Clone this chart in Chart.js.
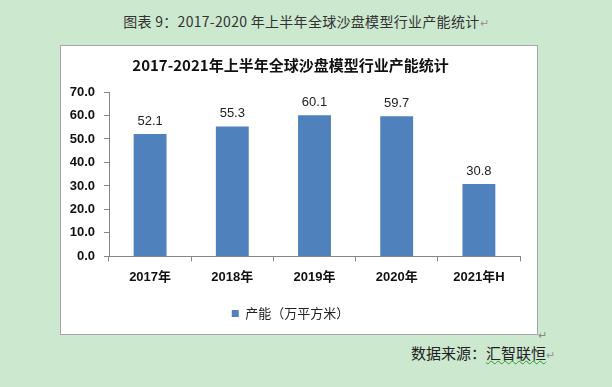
<!DOCTYPE html>
<html>
<head>
<meta charset="utf-8">
<script src="https://cdn.jsdelivr.net/npm/chart.js@4"></script>
<style>
  html, body { margin: 0; padding: 0; }
  body {
    width: 612px; height: 387px; position: relative; overflow: hidden;
    background: #cce8cf;
    font-family: "Noto Sans CJK SC", "Liberation Sans", sans-serif;
  }
  #caption {
    position: absolute; left: 0; top: 11px; width: 612px; text-align: center;
    font-size: 14px; font-weight: 400; color: #333; letter-spacing: 0.3px;
  }
  #box {
    position: absolute; left: 60px; top: 45px; width: 476px; height: 288px;
    border: 1px solid #a6a6a6; background: #fff;
  }
  #source {
    position: absolute; left: 411px; top: 342px;
    font-size: 15px; font-weight: 400; color: #222;
  }
  .wavy { text-decoration: underline wavy #2a9d2a; text-decoration-thickness: 1px; }
  .mark { color: #999; font-size: 11px; }
  #boxmark { position: absolute; left: 538px; top: 326px; color: #888; font-size: 11px; }
</style>
</head>
<body>
<div id="caption">图表 9：2017-2020 年上半年全球沙盘模型行业产能统计<span class="mark">↵</span></div>
<div id="box"><canvas id="myChart" width="476" height="288"></canvas></div>
<div id="boxmark">↵</div>
<div id="source">数据来源：<span class="wavy">汇智联恒</span><span class="mark">↵</span></div>
<script>
const years = ["2017年", "2018年", "2019年", "2020年", "2021年H"];
const capacity = [52.1, 55.3, 60.1, 59.7, 30.8];
const seriesName = "产能（万平方米）";
const chartTitle = "2017-2021年上半年全球沙盘模型行业产能统计";

const fontFamily = '"Liberation Sans", "Noto Sans CJK SC", sans-serif';

// value labels above each bar
const valueLabels = {
  id: "valueLabels",
  afterDatasetsDraw(chart) {
    const ctx = chart.ctx;
    const meta = chart.getDatasetMeta(0);
    ctx.save();
    ctx.font = "13px " + fontFamily;
    ctx.fillStyle = "#222";
    ctx.textAlign = "center";
    ctx.textBaseline = "middle";
    meta.data.forEach((bar, i) => {
      ctx.fillText(capacity[i].toFixed(1), bar.x, bar.y - 13);
    });
    ctx.restore();
  },
};

const data = {
  labels: years,
  datasets: [
    {
      label: seriesName,
      data: capacity,
      backgroundColor: "#4f81bd",
      borderWidth: 0,
      barPercentage: 0.8,
      categoryPercentage: 0.5,
    },
  ],
};

const config = {
  type: "bar",
  data,
  plugins: [valueLabels],
  options: {
    responsive: false,
    animation: false,
    layout: { padding: { left: 0, right: 17, top: 0, bottom: 4 } },
    plugins: {
      title: {
        display: true,
        text: chartTitle,
        color: "#111",
        font: { family: '"Noto Sans CJK SC", sans-serif', size: 15, weight: "bold" },
        padding: { top: 10, bottom: 18 },
      },
      legend: {
        position: "bottom",
        labels: {
          boxWidth: 7,
          boxHeight: 7,
          color: "#222",
          padding: 10,
          font: { family: '"Noto Sans CJK SC", sans-serif', size: 13 },
        },
      },
      tooltip: { enabled: false },
    },
    scales: {
      x: {
        afterFit(scale) { scale.height += 4; },
        grid: {
          display: true,
          drawOnChartArea: false,
          offset: true,
          tickLength: 5,
          color: "#868686",
        },
        border: { display: true, color: "#868686" },
        ticks: {
          color: "#111",
          padding: 8,
          font: { family: fontFamily, size: 13, weight: "bold" },
        },
      },
      y: {
        min: 0,
        max: 70,
        afterFit(scale) { scale.width = 48; },
        grid: {
          display: true,
          drawOnChartArea: false,
          tickLength: 5,
          color: "#868686",
        },
        border: { display: true, color: "#868686" },
        ticks: {
          stepSize: 10,
          color: "#111",
          padding: 9,
          font: { family: fontFamily, size: 13, weight: "bold" },
          callback: (v) => v.toFixed(1),
        },
      },
    },
  },
};

const myChart = new Chart(document.getElementById("myChart"), config);
</script>
</body>
</html>
